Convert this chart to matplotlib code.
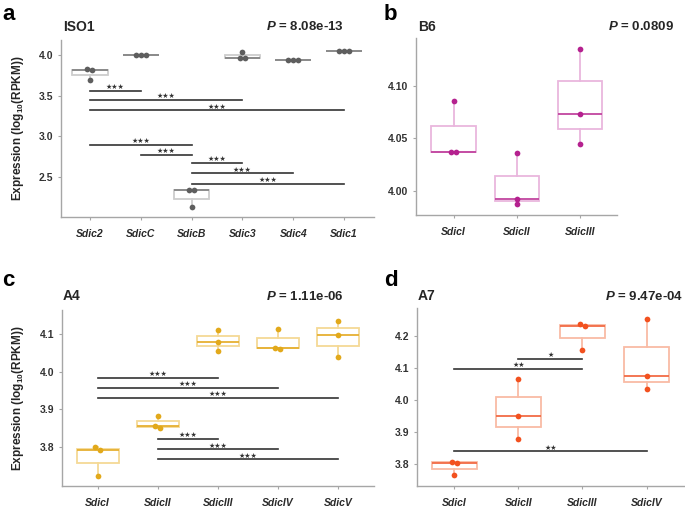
import numpy as np
import matplotlib
matplotlib.use("Agg")
import matplotlib.pyplot as plt

plt.rcParams['font.family'] = ['Liberation Sans', 'DejaVu Sans']
plt.rcParams['mathtext.fontset'] = 'custom'
plt.rcParams['mathtext.rm'] = 'Liberation Sans:bold'
plt.rcParams['mathtext.bf'] = 'Liberation Sans:bold'
plt.rcParams['mathtext.it'] = 'Liberation Sans:italic:bold'
plt.rcParams['mathtext.bfit'] = 'Liberation Sans:italic:bold'

# ---------------- data ----------------
a_cats = ["Sdic2", "SdicC", "SdicB", "Sdic3", "Sdic4", "Sdic1"]
a_vals = [[3.83, 3.82, 3.70], [4.00, 4.00, 4.00], [2.335, 2.33, 2.12],
          [4.037, 3.968, 3.966], [3.94, 3.94, 3.94], [4.057, 4.057, 4.057]]
a_sig = [(0, 1, 3.562, "***"), (0, 3, 3.447, "***"), (0, 5, 3.319, "***"),
         (0, 2, 2.894, "***"), (1, 2, 2.766, "***"), (2, 3, 2.670, "***"),
         (2, 4, 2.540, "***"), (2, 5, 2.410, "***")]
a_p = "8.08e-13"

b_cats = ["SdicI", "SdicII", "SdicIII"]
b_vals = [[4.0855, 4.0370, 4.0366], [4.0355, 3.9924, 3.9877],
          [4.1350, 4.0734, 4.0444]]
b_sig = []
b_p = "0.0809"

c_cats = ["SdicI", "SdicII", "SdicIII", "SdicIV", "SdicV"]
c_vals = [[3.800, 3.791, 3.724], [3.882, 3.855, 3.851],
          [4.112, 4.079, 4.057], [4.115, 4.065, 4.060],
          [4.137, 4.099, 4.039]]
c_sig = [(0, 2, 3.9847, "***"), (0, 3, 3.958, "***"), (0, 4, 3.9314, "***"),
         (1, 2, 3.8214, "***"), (1, 3, 3.7939, "***"), (1, 4, 3.7673, "***")]
c_p = "1.11e-06"

d_cats = ["SdicI", "SdicII", "SdicIII", "SdicIV"]
d_vals = [[3.807, 3.805, 3.766], [4.067, 3.952, 3.880],
          [4.236, 4.232, 4.155], [4.254, 4.076, 4.034]]
d_sig = [(1, 2, 4.128, "*"), (0, 2, 4.098, "**"), (0, 3, 3.8405, "**")]
d_p = "9.47e-04"

# ---------------- layout ----------------
W, H = 685, 509
fig = plt.figure(figsize=(W / 100, H / 100), dpi=100)


def ax_px(l, r, t, b):
    return fig.add_axes([l / W, 1 - b / H, (r - l) / W, (b - t) / H])


def fx(x):
    return x / W


def fy(y):
    return 1 - y / H


def swarm_x(ax, x0, vals, dpx=5.0, tol=4.0):
    """Spread near-tied points sideways, like a dot swarm."""
    pts = ax.transData.transform(np.column_stack([np.full(len(vals), x0), vals]))
    ypx = pts[:, 1]
    order = np.argsort(ypx)
    groups, cur = [], [order[0]]
    for k in order[1:]:
        if abs(ypx[k] - ypx[cur[-1]]) < tol:
            cur.append(k)
        else:
            groups.append(cur)
            cur = [k]
    groups.append(cur)
    p0 = ax.transData.transform((0, 0))[0]
    p1 = ax.transData.transform((1, 0))[0]
    unit = dpx / (p1 - p0)
    xs = np.full(len(vals), float(x0))
    for g in groups:
        kk = len(g)
        for m, idx in enumerate(sorted(g)):
            xs[idx] = x0 + (m - (kk - 1) / 2) * unit
    return xs


panels = [
    dict(cats=a_cats, vals=a_vals, sig=a_sig, p=a_p, title="ISO1", letter="a",
         box=(61, 374, 40, 217), ylim=(2.0, 4.19), yt=[2.5, 3.0, 3.5, 4.0], fmt="%.1f",
         xl=(-0.57, 5.59), pt="#5e5e5e", edge="#cdcdcd", med="#858585",
         title_xy=(63, 27), p_xy=(344, 27), let_xy=(2, 14), ylab=True),
    dict(cats=b_cats, vals=b_vals, sig=b_sig, p=b_p, title="B6", letter="b",
         box=(415.7, 617, 38.3, 215), ylim=(3.977, 4.145), yt=[4.00, 4.05, 4.10], fmt="%.2f",
         xl=(-0.6, 2.59), pt="#b5218f", edge="#e9b6dd", med="#c2459f",
         title_xy=(418, 27), p_xy=(674, 27), let_xy=(384, 14), ylab=False),
    dict(cats=c_cats, vals=c_vals, sig=c_sig, p=c_p, title="A4", letter="c",
         box=(61.7, 374, 310, 485.7), ylim=(3.697, 4.165), yt=[3.8, 3.9, 4.0, 4.1], fmt="%.1f",
         xl=(-0.6, 4.6), pt="#e2a91b", edge="#f5d995", med="#e6b032",
         title_xy=(63, 296), p_xy=(344, 296), let_xy=(2, 281), ylab=True),
    dict(cats=d_cats, vals=d_vals, sig=d_sig, p=d_p, title="A7", letter="d",
         box=(416.7, 685, 308.3, 485.7), ylim=(3.7335, 4.286), yt=[3.8, 3.9, 4.0, 4.1, 4.2], fmt="%.1f",
         xl=(-0.587, 3.6), pt="#f2511f", edge="#f9bba5", med="#f26b45",
         title_xy=(418, 296), p_xy=(683, 296), let_xy=(384, 281), ylab=False),
]

for P in panels:
    ax = ax_px(*P["box"])
    n = len(P["cats"])
    pos = np.arange(n)
    ax.set_xlim(*P["xl"])
    ax.set_ylim(*P["ylim"])
    ax.boxplot(P["vals"], positions=pos, widths=0.7, whis=(0, 100),
               showcaps=False, showfliers=False, patch_artist=True,
               boxprops=dict(facecolor="white", edgecolor=P["edge"], linewidth=1.3),
               whiskerprops=dict(color=P["edge"], linewidth=1.3),
               medianprops=dict(color=P["med"], linewidth=1.3))
    ax.set_xlim(*P["xl"])
    ax.set_ylim(*P["ylim"])
    for i, v in enumerate(P["vals"]):
        xs = swarm_x(ax, pos[i], np.array(v))
        ax.scatter(xs, v, s=17, color=P["pt"], zorder=5, linewidths=0)
    for (i, j, y, lab) in P["sig"]:
        ax.plot([pos[i], pos[j]], [y, y], color="#333333", lw=1.2, zorder=4)
        ax.annotate(lab.replace("*", "\u2605"), xy=((pos[i] + pos[j]) / 2, y),
                    xytext=(0, 1.2), textcoords="offset points", ha="center",
                    va="baseline", fontsize=5, color="#333333",
                    family="DejaVu Sans")
    ax.set_yticks(P["yt"])
    ax.set_yticklabels([P["fmt"] % t for t in P["yt"]])
    ax.set_xticks(pos)
    ax.set_xticklabels(P["cats"], fontstyle="italic", fontweight="bold",
                       fontsize=7.5, color="#2a2a2a")
    for lbl in ax.get_yticklabels():
        lbl.set_fontweight("bold")
        lbl.set_fontsize(7.5)
        lbl.set_color("#333333")
    for s in ["top", "right"]:
        ax.spines[s].set_visible(False)
    for s in ["left", "bottom"]:
        ax.spines[s].set_color("#a6a6a6")
        ax.spines[s].set_linewidth(1.0)
    ax.tick_params(axis="both", colors="#a6a6a6", length=2.5, width=0.8)
    ax.tick_params(axis="x", pad=6, labelcolor="#2a2a2a")
    ax.tick_params(axis="y", pad=3, labelcolor="#333333")
    ax.patch.set_alpha(0)

    tx, ty = P["title_xy"]
    fig.text(fx(tx), fy(ty), P["title"], fontsize=10, fontweight="bold",
             ha="left", va="center", color="#262626")
    px, py = P["p_xy"]
    fig.text(fx(px), fy(py), r"$\mathbfit{P}$ = " + P["p"], fontsize=9.5,
             fontweight="bold", ha="right", va="center", color="#262626")
    lx, ly = P["let_xy"]
    fig.text(fx(lx), fy(ly), P["letter"], fontsize=16, fontweight="bold",
             ha="left", va="center", color="black")
    if P["ylab"]:
        l, r, t, b = P["box"]
        fig.text(fx(18), fy((t + b) / 2), r"Expression (log$_{\mathbf{10}}$(RPKM))",
                 rotation=90, fontsize=8.5, fontweight="bold", ha="center",
                 va="center", color="#262626")

fig.savefig("out.png", dpi=100)
